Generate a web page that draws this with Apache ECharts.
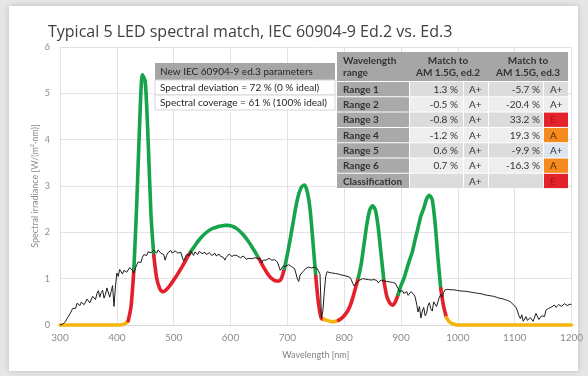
<!DOCTYPE html>
<html>
<head>
<meta charset="utf-8">
<script src="https://cdn.jsdelivr.net/npm/echarts@6/dist/echarts.min.js"></script>
<style>
  html, body { margin: 0; padding: 0; background: #e6e6e6; }
  #card { position: absolute; left: 9px; top: 6px; width: 569px; height: 365px; background: #ffffff;
          box-shadow: 0 0 6px rgba(0,0,0,0.18); }
  #chart { position: absolute; left: 0; top: 0; width: 588px; height: 376px; }
</style>
</head>
<body>
<div id="card"></div>
<div id="chart"></div>
<script>
// ---------------- DATA ----------------
const titleText = 'Typical 5 LED spectral match, IEC 60904-9 Ed.2 vs. Ed.3';
const xAxisName = 'Wavelength [nm]';
const yAxisName = 'Spectral irradiance [W/(m\u00B2\u00B7nm)]';
const xTicks = [300, 400, 500, 600, 700, 800, 900, 1000, 1100, 1200];
const yTicks = [0, 1, 2, 3, 4, 5, 6];

// AM 1.5G reference spectrum (black), 300 ... 1200 nm every 2.5 nm, W/(m2 nm)
const amStart = 300;
const amStep = 2.5;
const am15 = [
  0.00,0.00,0.02,0.04,0.08,0.14,0.18,0.24,0.28,0.36,0.40,0.36,0.47,0.50,0.42,0.49,0.50,0.44,0.46,0.56,
  0.55,0.48,0.50,0.62,0.58,0.55,0.68,0.74,0.60,0.70,0.75,0.58,0.66,0.80,0.82,0.60,0.72,0.85,0.40,0.82,
  1.12,1.05,1.20,1.16,1.10,1.18,1.22,1.14,1.16,1.24,1.23,1.18,1.12,1.22,1.30,1.36,1.40,1.35,1.46,1.52,
  1.55,1.50,1.58,1.62,1.56,1.52,1.61,1.57,1.55,1.62,1.60,1.55,1.58,1.52,1.40,1.50,1.56,1.60,1.61,1.55,
  1.54,1.60,1.59,1.55,1.52,1.57,1.47,1.38,1.40,1.52,1.55,1.50,1.60,1.62,1.50,1.58,1.56,1.52,1.59,1.56,
  1.54,1.58,1.57,1.52,1.51,1.56,1.55,1.50,1.52,1.55,1.49,1.52,1.53,1.48,1.50,1.46,1.40,1.46,1.49,1.53,
  1.52,1.48,1.49,1.51,1.47,1.49,1.50,1.45,1.46,1.49,1.47,1.42,1.38,1.44,1.46,1.43,1.47,1.45,1.43,1.44,
  1.41,1.43,1.34,1.40,1.43,1.40,1.41,1.44,1.43,1.40,1.39,1.41,1.38,1.36,1.32,1.18,1.18,1.27,1.30,1.27,
  1.26,1.30,1.29,1.26,1.25,1.22,1.12,1.00,0.94,1.08,1.06,1.15,1.19,1.22,1.23,1.25,1.25,1.23,1.22,1.25,
  1.24,1.22,1.21,1.10,0.15,0.30,0.70,1.05,1.15,1.14,1.13,1.12,1.12,1.11,1.11,1.10,1.10,1.09,1.08,1.08,
  1.07,1.06,1.05,1.04,1.03,0.98,0.90,0.84,0.86,0.92,0.96,0.97,0.98,1.00,1.00,0.99,0.99,0.98,0.98,0.97,
  0.97,0.98,0.99,0.96,0.91,0.95,0.97,0.96,0.95,0.95,0.94,0.94,0.93,0.93,0.92,0.91,0.90,0.86,0.78,0.72,
  0.70,0.74,0.68,0.70,0.72,0.64,0.65,0.72,0.70,0.66,0.60,0.45,0.28,0.40,0.15,0.30,0.38,0.20,0.25,0.42,
  0.48,0.35,0.30,0.50,0.52,0.40,0.42,0.60,0.66,0.60,0.70,0.76,0.78,0.77,0.77,0.76,0.77,0.76,0.75,0.75,
  0.74,0.74,0.74,0.73,0.73,0.73,0.72,0.72,0.71,0.71,0.70,0.70,0.69,0.69,0.68,0.68,0.67,0.67,0.66,0.65,
  0.64,0.64,0.63,0.63,0.62,0.62,0.61,0.60,0.59,0.58,0.57,0.57,0.56,0.55,0.54,0.53,0.52,0.50,0.46,0.44,
  0.42,0.38,0.30,0.20,0.14,0.22,0.08,0.12,0.18,0.10,0.07,0.16,0.20,0.08,0.10,0.25,0.22,0.12,0.09,0.20,
  0.24,0.18,0.32,0.35,0.36,0.33,0.39,0.42,0.43,0.38,0.40,0.44,0.45,0.40,0.42,0.46,0.46,0.42,0.41,0.45,
  0.44
];

// 5-LED simulator spectrum, 300 ... 1200 nm every 5 nm, W/(m2 nm)
const ledStart = 300;
const ledStep = 5;
const led5 = [
  0,0,0,0,0,0,0,0,0,0,0,0,0,0,0,0,0,0,0,0,
  0.00,0.00,0.01,0.03,0.09,0.40,1.20,2.60,4.30,5.40,5.25,4.00,2.40,1.50,1.02,0.80,0.72,0.74,0.80,0.88,
  0.97,1.06,1.16,1.26,1.37,1.48,1.58,1.67,1.76,1.84,1.91,1.97,2.02,2.06,2.09,2.11,2.13,2.14,2.15,2.15,
  2.14,2.12,2.09,2.04,1.98,1.91,1.83,1.74,1.64,1.54,1.43,1.32,1.21,1.11,1.03,0.98,0.95,0.95,1.02,1.22,
  1.52,1.85,2.20,2.55,2.82,2.98,3.02,2.88,2.50,1.80,1.05,0.45,0.14,0.12,0.10,0.08,0.07,0.08,0.10,0.14,
  0.20,0.28,0.40,0.58,0.80,1.02,1.32,1.75,2.18,2.48,2.57,2.48,2.10,1.52,0.95,0.62,0.48,0.43,0.50,0.66,
  0.85,1.00,1.20,1.40,1.58,1.85,2.10,2.35,2.52,2.72,2.80,2.70,2.20,1.45,0.78,0.40,0.16,0.07,0.03,0.01,
  0,0,0,0,0,0,0,0,0,0,0,0,0,0,0,0,0,0,0,0,
  0,0,0,0,0,0,0,0,0,0,0,0,0,0,0,0,0,0,0,0,
  0
];

// Parameter box
const paramLines = [
  'New IEC 60904-9 ed.3 parameters',
  'Spectral deviation = 72 % (0 % ideal)',
  'Spectral coverage = 61 % (100% ideal)'
];

// Table
const tableHeader1 = ['Wavelength', 'Match to', 'Match to'];
const tableHeader2 = ['range', 'AM 1.5G, ed.2', 'AM 1.5G, ed.3'];
const rangeLabels = ['Range 1', 'Range 2', 'Range 3', 'Range 4', 'Range 5', 'Range 6', 'Classification'];
const ed2Dev = ['1.3 %', '-0.5 %', '-0.8 %', '-1.2 %', '0.6 %', '0.7 %', ''];
const ed2Class = ['A+', 'A+', 'A+', 'A+', 'A+', 'A+', 'A+'];
const ed3Dev = ['-5.7 %', '-20.4 %', '33.2 %', '19.3 %', '-9.9 %', '-16.3 %', ''];
const ed3Class = ['A+', 'A+', 'E', 'A', 'A+', 'A', 'E'];

// ---------------- BUILD ----------------
const C_GREEN = '#16a44a', C_RED = '#e3202b', C_YELLOW = '#f5b60c';
const amData = am15.map((v, i) => [amStart + i * amStep, v]);
const ledWl = led5.map((_, i) => ledStart + i * ledStep);
const ratio = ledStep / amStep; // AM samples per LED step

function amAt(j) { return am15[Math.max(0, Math.min(am15.length - 1, j))]; }
function segClass(i) {
  const l = (led5[i] + led5[i + 1]) / 2;
  const j = i * ratio + ratio / 2;
  const a = (amAt(j - 1) + 2 * amAt(j) + amAt(j + 1)) / 4;
  if (l < 0.12) return 'y';
  return l >= a ? 'g' : 'r';
}
const colorOf = { g: C_GREEN, r: C_RED, y: C_YELLOW };
const runs = [];
let start = 0, cur = segClass(0);
for (let i = 1; i < led5.length - 1; i++) {
  const c = segClass(i);
  if (c !== cur) { runs.push([start, i, cur]); start = i; cur = c; }
}
runs.push([start, led5.length - 1, cur]);

const ledSeries = runs.map(([s, e, c]) => ({
  type: 'line',
  data: led5.slice(s, e + 1).map((v, k) => [ledWl[s + k], v]),
  showSymbol: false,
  smooth: 0.25,
  clip: false,
  silent: true,
  lineStyle: { color: colorOf[c], width: 3.6, cap: 'round', join: 'round' },
  z: 3
}));

// graphics: parameter box + table
const FONT = 'Lato, "Open Sans", sans-serif';
const g = [];
function rect(x, y, w, h, fill, stroke) {
  g.push({ type: 'rect', shape: { x, y, width: w, height: h },
    style: { fill, stroke: stroke || null, lineWidth: stroke ? 1 : 0 }, silent: true, z: 100 });
}
function text(str, x, y, opt) {
  opt = opt || {};
  g.push({ type: 'text', silent: true, z: 101,
    style: { text: str, x, y, fill: opt.color || '#333333',
      font: (opt.bold ? 'bold ' : '') + (opt.size || 10) + 'px ' + FONT,
      align: opt.align || 'left', textAlign: opt.align || 'left',
      verticalAlign: 'middle', textVerticalAlign: 'middle' } });
}

// parameter box
const pb = { x: 155, y: 63, w: 180, rows: [17, 15, 15] };
let py = pb.y;
paramLines.forEach((t, i) => {
  const h = pb.rows[i];
  rect(pb.x, py, pb.w, h, i === 0 ? '#a6a6a6' : '#ffffff', i === 0 ? null : '#d6d6d6');
  text(t, pb.x + 5, py + h / 2 + 0.5, { size: 10, color: '#262626' });
  py += h;
});

// table
const cx = [337, 409, 463, 488, 543, 568];
const ty = 52, hh = 29, rh = 15.3;
rect(cx[0], ty, cx[5] - cx[0], hh, '#a6a6a6');
text(tableHeader1[0], 343, ty + 8.5, { bold: true });
text(tableHeader2[0], 343, ty + 20.5, { bold: true });
text(tableHeader1[1], 448, ty + 8.5, { bold: true, align: 'center' });
text(tableHeader2[1], 448, ty + 20.5, { bold: true, align: 'center' });
text(tableHeader1[2], 528, ty + 8.5, { bold: true, align: 'center' });
text(tableHeader2[2], 528, ty + 20.5, { bold: true, align: 'center' });

const gradeFill = { 'E': '#e4222b', 'A': '#f58a1f' };
const gradeText = { 'E': '#b3121a', 'A': '#5a2a00' };
rangeLabels.forEach((lab, r) => {
  const y0 = ty + hh + 1 + r * rh;
  const h = rh - 1;
  const rowFill = r % 2 === 0 ? '#dcdcdc' : '#eeeeee';
  rect(cx[0], y0, cx[1] - cx[0], h, '#a9a9a9');
  rect(cx[1] + 1, y0, cx[2] - cx[1] - 1, h, rowFill);
  rect(cx[2] + 1, y0, cx[3] - cx[2] - 1, h, rowFill);
  rect(cx[3] + 1, y0, cx[4] - cx[3] - 1, h, rowFill);
  let gf = gradeFill[ed3Class[r]] || rowFill;
  if (r === 4) gf = '#dde6ef';
  rect(cx[4] + 1, y0, cx[5] - cx[4] - 1, h, gf);
  const yc = y0 + h / 2 + 0.5;
  text(lab, 343, yc, { bold: true });
  text(ed2Dev[r], 458, yc, { align: 'right' });
  text(ed2Class[r], 469, yc, {});
  text(ed3Dev[r], 540, yc, { align: 'right' });
  text(ed3Class[r], 550, yc, { color: gradeText[ed3Class[r]] || '#333333' });
});

const chart = echarts.init(document.getElementById('chart'), null, { renderer: 'canvas' });
chart.setOption({
  animation: false,
  backgroundColor: 'transparent',
  title: {
    text: titleText, left: 43, top: 19,
    textStyle: { fontSize: 16, fontWeight: 'normal', color: '#404040', fontFamily: '"Open Sans", sans-serif' }
  },
  grid: { left: 60, right: 16.5, top: 47, bottom: 51, containLabel: false },
  xAxis: {
    type: 'value', min: xTicks[0], max: xTicks[xTicks.length - 1], interval: 100,
    name: xAxisName, nameLocation: 'middle', nameGap: 26,
    nameTextStyle: { color: '#7f7f7f', fontSize: 9, fontFamily: FONT },
    axisLine: { show: true, lineStyle: { color: '#d9d9d9' } },
    axisTick: { show: false },
    axisLabel: { color: '#8c8c8c', fontSize: 10, margin: 8, fontFamily: FONT,
                 formatter: v => String(v) },
    splitLine: { show: true, lineStyle: { color: '#e3e3e3', width: 1 } }
  },
  yAxis: {
    type: 'value', min: yTicks[0], max: yTicks[yTicks.length - 1], interval: 1,
    name: yAxisName, nameLocation: 'middle', nameGap: 20, nameRotate: 90,
    nameMoveOverlap: false,
    nameTextStyle: { color: '#8c8c8c', fontSize: 9, fontFamily: FONT },
    axisLine: { show: false },
    axisTick: { show: false },
    axisLabel: { color: '#8c8c8c', fontSize: 9, margin: 10, fontFamily: FONT },
    splitLine: { show: true, lineStyle: { color: '#e3e3e3', width: 1 } }
  },
  series: ledSeries.concat([{
    type: 'line', data: amData, showSymbol: false, silent: true, clip: false,
    lineStyle: { color: '#1c1c1c', width: 1 }, z: 4
  }]),
  graphic: g
});
</script>
</body>
</html>
